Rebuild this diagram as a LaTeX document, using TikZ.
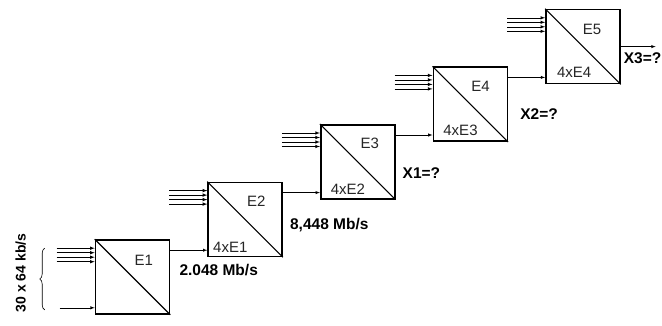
\documentclass[tikz,border=0pt]{standalone}
\usepackage{fontspec}
\setmainfont{Liberation Sans}
\usetikzlibrary{positioning,calc,arrows,decorations.pathreplacing}
\tikzset{
  ebox/.style ={rectangle, draw=black, line width=1.6pt, fill=white,
                minimum size=74pt, inner sep=0pt},
  lab/.style  ={font=\fontsize{15}{17}\selectfont, text=black!85, inner sep=1pt},
  rate/.style ={font=\fontsize{15.5}{17}\selectfont\bfseries, inner sep=1pt, anchor=west},
  fl/.style   ={-latex, line width=0.5pt},
  inl/.style  ={-latex, line width=0.6pt},
  diag/.style ={line width=1.1pt}
}

\begin{document}
\begin{tikzpicture}[x=1pt, y=-1pt]
  \useasboundingbox (0,0) rectangle (662,325);

  % the five multiplexers
  \node[ebox] (e1) at (132.5,277) {};
  \node[ebox,above right=-18pt and 37pt of e1] (e2) {};
  \node[ebox,above right=-18pt and 37pt of e2] (e3) {};
  \node[ebox,above right=-18pt and 37pt of e3] (e4) {};
  \node[ebox,above right=-18pt and 37pt of e4] (e5) {};

  \foreach \i in {1,...,5}
    \draw[diag] (e\i.north west) -- (e\i.south east);

  \node[lab] (t1) at ($(e1.north west)+(49,21)$) {E1};
  \node[lab] (t2) at ($(e2.north west)+(49,20)$) {E2};
  \node[lab] (t3) at ($(e3.north west)+(50,19)$) {E3};
  \node[lab] (t4) at ($(e4.north west)+(48,20)$) {E4};
  \node[lab] (t5) at ($(e5.north west)+(47,21)$) {E5};

  \node[lab] (m2) at ($(e2.north west)+(23,66)$) {4xE1};
  \node[lab] (m3) at ($(e3.north west)+(28,65)$) {4xE2};
  \node[lab] (m4) at ($(e4.north west)+(28,64)$) {4xE3};
  \node[lab] (m5) at ($(e5.north west)+(29,64)$) {4xE4};

  % tributary inputs
  \foreach \i in {1,...,5}
    \foreach \d in {9,13.5,18,22.5}
      \draw[inl] ($(e\i.north west)+(-38,\d)$) -- ($(e\i.north west)+(0,\d)$);

  \coordinate (b1) at ($(e1.south west)+(-35,-7)$);
  \draw[fl] (b1) -- (b1 -| e1.west);

  \coordinate (bt) at ($(e1.north west)+(-50,9)$);
  \coordinate (bb) at ($(e1.south west)+(-50,-5)$);
  \draw[decorate,decoration={brace,amplitude=5pt},line width=0.6pt] (bb) -- (bt);
  \node[font=\fontsize{14}{16}\selectfont\bfseries, rotate=90] (r0)
        at ($($(bt)!0.5!(bb)$)+(-24,-6)$) {30 x 64 kb/s};

  % links between stages
  \coordinate (i2) at ($(e2.south west)+(0,-7)$);
  \coordinate (i3) at ($(e3.south west)+(0,-7)$);
  \coordinate (i4) at ($(e4.south west)+(0,-7)$);
  \coordinate (i5) at ($(e5.south west)+(0,-7)$);
  \draw[fl] (e1.east |- i2) -- (i2);
  \draw[fl] (e2.east |- i3) -- (i3);
  \draw[fl] (e3.east |- i4) -- (i4);
  \draw[fl] (e4.east |- i5) -- (i5);

  \coordinate (o5) at ($(e5.east)+(35,0)$);
  \draw[fl] (e5.east) -- (o5);

  \node[rate] (r1) at ($(e1.north east)+(8,31)$) {2.048 Mb/s};
  \node[rate] (r2) at ($(e2.north east)+(6,43)$) {8,448 Mb/s};
  \node[rate] (r3) at ($(e3.north east)+(6,49)$) {X1=?};
  \node[rate] (r4) at ($(e4.north east)+(11,48)$) {X2=?};
  \node[rate] (r5) at ($(e5.north east)+(2,49)$) {X3=?};
\end{tikzpicture}
\end{document}
